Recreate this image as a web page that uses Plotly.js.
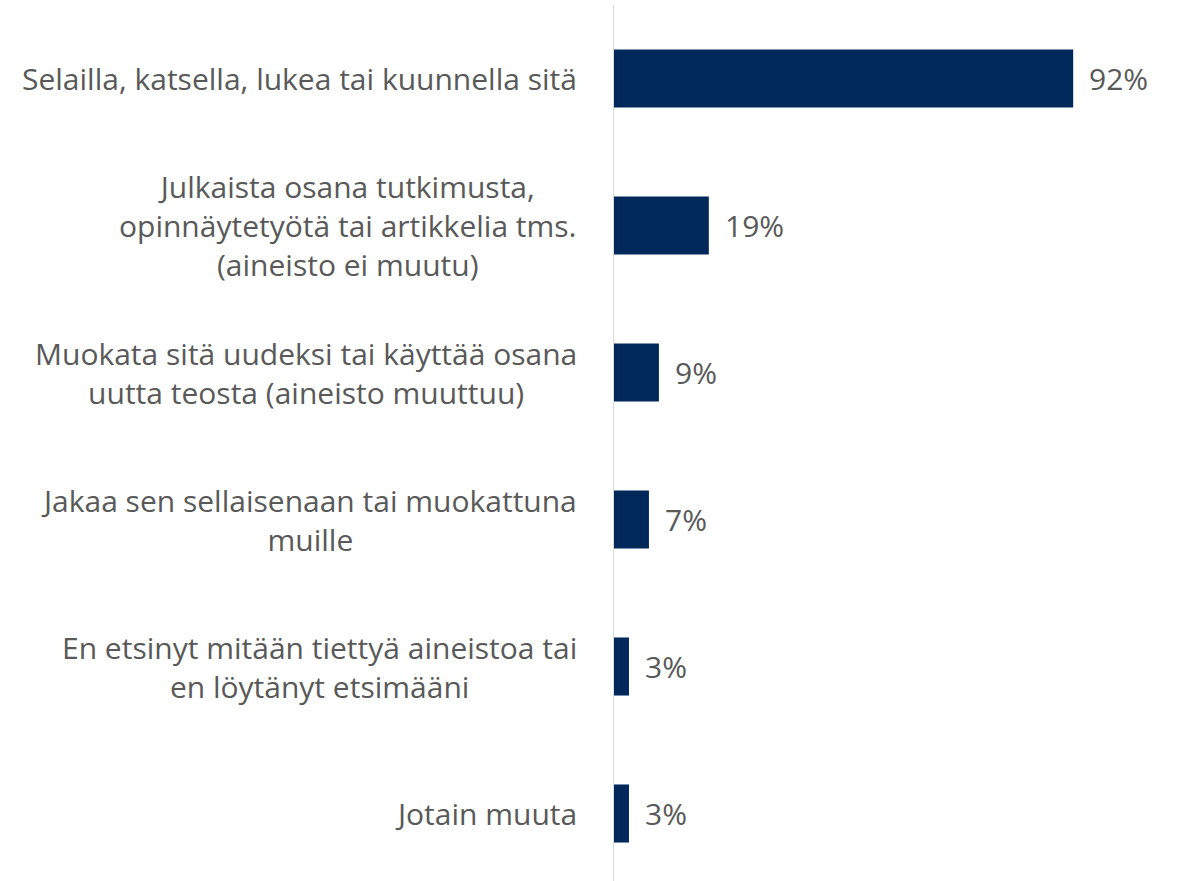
<!DOCTYPE html>
<html>
<head>
<meta charset="utf-8">
<script src="https://cdn.plot.ly/plotly-3.0.1.min.js"></script>
<style>
  html, body { margin: 0; padding: 0; background: #fff; overflow: hidden; }
  #chart { width: 1178px; height: 887px; }
</style>
</head>
<body>
<div id="chart"></div>
<script>
// Kategoriat ja osuudet (%)
const categories = [
    'Selailla, katsella, lukea tai kuunnella sitä',
    'Julkaista osana tutkimusta,<br>opinnäytetyötä tai artikkelia tms.<br>(aineisto ei muutu)',
    'Muokata sitä uudeksi tai käyttää osana<br>uutta teosta (aineisto muuttuu)',
    'Jakaa sen sellaisenaan tai muokattuna<br>muille',
    'En etsinyt mitään tiettyä aineistoa tai<br>en löytänyt etsimääni',
    'Jotain muuta'
];
const values = [92, 19, 9, 7, 3, 3];
const valueLabels = ['92%', '19%', '9%', '7%', '3%', '3%'];

const textColor = '#595959';
const barColor = '#00285a';
const fontFamily = '"Open Sans", "Noto Sans", sans-serif';

// Kategorioiden nimet annotaatioina (keskitetyt rivit, oikea reuna akselin vieressä)
const labelAnnotations = categories.map(c => ({
    x: 0, xref: 'paper', xanchor: 'right', xshift: -35,
    y: c, yref: 'y', yanchor: 'middle',
    text: c, align: 'center', showarrow: false,
    font: {family: fontFamily, size: 30, color: textColor}
}));

// Arvot palkkien perään
const valueAnnotations = categories.map((c, i) => ({
    x: values[i], xref: 'x', xanchor: 'left', xshift: 14,
    y: c, yref: 'y', yanchor: 'middle',
    text: valueLabels[i], showarrow: false,
    font: {family: fontFamily, size: 30, color: textColor}
}));

Plotly.newPlot('chart', [{
    type: 'bar',
    orientation: 'h',
    x: values,
    y: categories,
    marker: {color: barColor},
    hoverinfo: 'none'
}], {
    width: 1178,
    height: 887,
    margin: {l: 614, r: 0, t: 5, b: 0},
    paper_bgcolor: '#ffffff',
    plot_bgcolor: '#ffffff',
    bargap: 0.605,
    showlegend: false,
    xaxis: {
        range: [0, 113],
        visible: false,
        fixedrange: true
    },
    yaxis: {
        autorange: 'reversed',
        showticklabels: false,
        ticks: '',
        showgrid: false,
        zeroline: false,
        showline: true,
        linecolor: '#d9d9d9',
        linewidth: 1.5,
        fixedrange: true
    },
    annotations: labelAnnotations.concat(valueAnnotations)
}, {displayModeBar: false, staticPlot: true});
</script>
</body>
</html>
